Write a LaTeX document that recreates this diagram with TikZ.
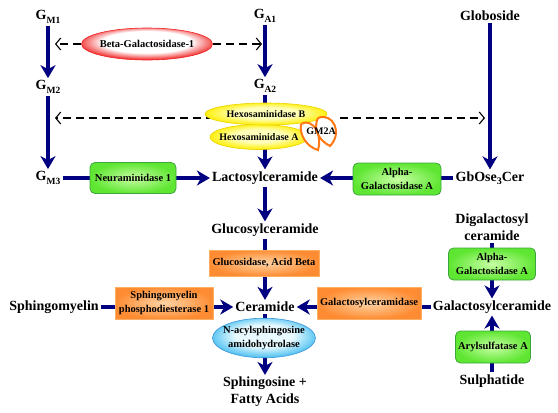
\documentclass[tikz,border=0pt]{standalone}
\usepackage{fontspec}
\setmainfont{Liberation Serif}
\usetikzlibrary{shapes.geometric,arrows.meta,backgrounds}
\definecolor{navy}{RGB}{0,0,128}
\definecolor{gOut}{RGB}{95,230,50}
\definecolor{gIn}{RGB}{200,255,165}
\definecolor{gBd}{RGB}{60,165,60}
\definecolor{oOut}{RGB}{255,140,50}
\definecolor{oIn}{RGB}{255,212,165}
\definecolor{oBd}{RGB}{255,175,100}
\definecolor{rOut}{RGB}{240,35,35}
\definecolor{yOut}{RGB}{255,238,0}
\definecolor{yIn}{RGB}{255,255,185}
\definecolor{yBd}{RGB}{235,210,0}
\definecolor{bOut}{RGB}{70,190,240}
\definecolor{bIn}{RGB}{232,250,255}
\definecolor{bBd}{RGB}{60,150,220}
\definecolor{ribbon}{RGB}{255,120,20}
\pgfdeclareradialshading{redsh}{\pgfpoint{0bp}{5bp}}{color(0bp)=(white); color(17bp)=(white); color(27bp)=(rOut); color(50bp)=(rOut)}
\pgfdeclareradialshading{bluesh}{\pgfpoint{0bp}{4bp}}{color(0bp)=(bIn); color(14bp)=(bIn); color(27bp)=(bOut); color(50bp)=(bOut)}
\pgfdeclareradialshading{yelsh}{\pgfpoint{0bp}{3bp}}{color(0bp)=(yIn); color(13bp)=(yIn); color(26bp)=(yOut); color(50bp)=(yOut)}
\newcommand\mysub[1]{\raisebox{-4pt}{\fontsize{9.5}{9.5}\selectfont #1}}
\begin{document}
\begin{tikzpicture}[x=1pt,y=-1pt,
  lab/.style={font=\fontsize{14}{17}\selectfont\bfseries, inner sep=2pt, align=center},
  enz/.style={font=\fontsize{10.5}{14}\selectfont\bfseries, inner sep=0pt, align=center},
  greenbox/.style={enz, draw=gBd, line width=0.8pt, rounded corners=5pt, inner color=gIn, outer color=gOut},
  orangebox/.style={enz, draw=oBd, line width=0.8pt, inner color=oIn, outer color=oOut},
  ellbox/.style={enz, ellipse, inner sep=0pt},
  hexell/.style={ellbox, font=\fontsize{10}{12}\selectfont\bfseries, draw=yBd, line width=0.6pt, shading=yelsh},
  flow/.style={draw=navy, line width=4pt, -{Stealth[length=13pt,width=15pt,inset=4pt]}},
  dashflow/.style={draw=black, line width=1.1pt, dash pattern=on 8pt off 5pt, -{Straight Barb[length=5pt,width=12pt]}},
  rib/.style={draw=ribbon, line width=2pt, fill=white}
]
\useasboundingbox (0,0) rectangle (558,413);

% substances
\node[lab] (gm1) at (48,17) {G\mysub{M1}};
\node[lab] (gm2) at (48,87) {G\mysub{M2}};
\node[lab] (gm3) at (48,178) {G\mysub{M3}};
\node[lab] (ga1) at (265,16) {G\mysub{A1}};
\node[lab] (ga2) at (265,86) {G\mysub{A2}};
\node[lab] (glob) at (490,16) {Globoside};
\node[lab] (lacto) at (265,178) {Lactosylceramide};
\node[lab] (gbo) at (490,178) {GbOse\raisebox{-3pt}{\fontsize{10}{10}\selectfont 3}Cer};
\node[lab] (gluco) at (265,230) {Glucosylceramide};
\node[lab] (cer) at (265,307) {Ceramide};
\node[lab] (sph) at (54,307) {Sphingomyelin};
\node[lab] (galcer) at (492,307) {Galactosylceramide};
\node[lab] (digal) at (492,227) {Digalactosyl\\ceramide};
\node[lab] (sulph) at (492,381) {Sulphatide};
\node[lab] (sfa) at (265,392) {Sphingosine +\\Fatty Acids};

% enzymes
\node[greenbox, minimum width=86pt, minimum height=31pt] (neur) at (133,178) {Neuraminidase 1};
\node[greenbox, minimum width=88pt, minimum height=32pt] (agal1) at (397,179) {Alpha-\\Galactosidase A};
\node[orangebox, minimum width=110pt, minimum height=26pt] (glucb) at (264,263) {Glucosidase, Acid Beta};
\node[orangebox, minimum width=98pt, minimum height=32pt] (smpd) at (164,303) {Sphingomyelin\\phosphodiesterase 1};
\node[orangebox, minimum width=104pt, minimum height=32pt] (galc) at (369,303) {Galactosylceramidase};
\node[ellbox, draw=bBd, line width=0.6pt, shading=bluesh, minimum width=103pt, minimum height=34pt] (nacyl) at (264,338)
  {\makebox[0pt]{\begin{tabular}{@{}c@{}}N-acylsphingosine\\amidohydrolase\end{tabular}}};
\node[greenbox, minimum width=87pt, minimum height=32pt] (agal2) at (492,264) {Alpha-\\Galactosidase A};
\node[greenbox, minimum width=75pt, minimum height=32pt] (arsa) at (493,347) {Arylsulfatase A};
\node[ellbox, draw=rOut, line width=0.6pt, shading=redsh, minimum width=131pt, minimum height=32pt] (beta) at (147,44)
  {\makebox[0pt]{Beta-Galactosidase-1}};
\node[hexell, minimum width=98pt, minimum height=25pt] (hexa) at (259,137)
  {\makebox[0pt]{Hexosaminidase A}};
\node[hexell, minimum width=122pt, minimum height=22pt] (hexb) at (266,114)
  {\makebox[0pt]{Hexosaminidase B}};
% GM2A ribbon
\draw[rib] (301,124) .. controls (313,117) and (323,136) .. (318,150) .. controls (307,147) and (299,135) .. (301,124);
\draw[rib] (318,118) .. controls (333,112) and (343,133) .. (330,146) .. controls (318,140) and (313,128) .. (318,118);
\node[enz, font=\fontsize{10}{12}\selectfont\bfseries] (gm2a) at (321,131) {GM2A};

\coordinate (bl) at (55,44);
\coordinate (br) at (262,44);
\coordinate (hl) at (55,118);
\coordinate (hr) at (485,118);

\begin{pgfonlayer}{background}
\fill[white] (0,0) rectangle (558,413);
\draw[flow] (gm1) -- (gm2);
\draw[flow] (gm2) -- (gm3);
\draw[flow] (ga1) -- (ga2);
\draw[flow] (ga2) -- (lacto);
\draw[flow] (glob) -- (gbo);
\draw[flow] (gm3) -- (lacto);
\draw[flow] (gbo) -- (lacto);
\draw[flow] (lacto) -- (gluco);
\draw[flow] (gluco) -- (cer);
\draw[flow] (sph) -- (cer);
\draw[flow] (galcer) -- (cer);
\draw[flow] (cer) -- (sfa);
\draw[flow] (digal) -- (galcer);
\draw[flow] (sulph) -- (galcer);
\draw[dashflow] (beta) -- (bl);
\draw[dashflow] (beta) -- (br);
\draw[dashflow] (hexb.center |- hl) -- (hl);
\draw[dashflow, shorten <=4pt] (gm2a.east |- hr) -- (hr);
\end{pgfonlayer}
\end{tikzpicture}
\end{document}
